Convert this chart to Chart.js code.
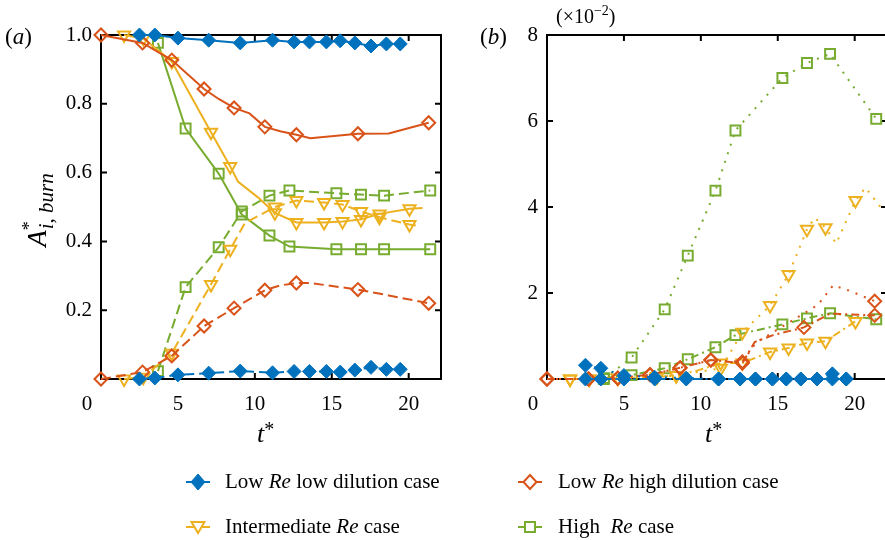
<!DOCTYPE html>
<html><head><meta charset="utf-8">
<script src="https://cdn.jsdelivr.net/npm/chart.js@4"></script>
<style>
html,body{margin:0;padding:0;background:#fff;overflow:hidden;width:885px;height:540px;}
#wrap{position:relative;width:885px;height:540px;overflow:hidden;font-family:'Liberation Serif','Times New Roman',serif;color:#000;}
canvas{position:absolute;top:0;}
.t{position:absolute;white-space:nowrap;line-height:1;}
.lg{position:absolute;white-space:nowrap;font-size:21px;line-height:24px;}
</style></head><body><div id="wrap">
<canvas id="ca" width="450" height="420" style="left:0"></canvas>
<canvas id="cb" width="450" height="420" style="left:446px"></canvas>
<svg id="lgsvg" width="885" height="540" style="position:absolute;left:0;top:0"></svg>
<div class="t" style="left:5px;top:25px;font-size:23px;">(<i>a</i>)</div>
<div class="t" style="left:480px;top:25px;font-size:23px;">(<i>b</i>)</div>
<div class="t" style="left:556px;top:6px;font-size:20px;">(×10<span style="font-size:14px;position:relative;top:-8px;">−2</span>)</div>
<div class="t" style="left:37px;top:206px;transform:translate(-50%,-50%) rotate(-90deg);font-size:27px;"><i>A</i><span style="font-size:18px;position:relative;top:-11px;">*</span><span style="font-size:21px;position:relative;top:7px;left:-8px;"><i>i</i>, <i>burn</i></span></div>
<div class="t" style="left:257px;top:421px;font-size:26px;"><i>t</i><span style="font-size:20px;position:relative;top:-6px;">*</span></div>
<div class="t" style="left:705px;top:421px;font-size:26px;"><i>t</i><span style="font-size:20px;position:relative;top:-6px;">*</span></div>
<div class="lg" style="left:225px;top:469px;">Low <i>Re</i> low dilution case</div>
<div class="lg" style="left:558px;top:469px;">Low <i>Re</i> high dilution case</div>
<div class="lg" style="left:225px;top:514px;">Intermediate <i>Re</i> case</div>
<div class="lg" style="left:558px;top:514px;">High&nbsp; <i>Re</i> case</div>
</div>
<script>
// ---------------- data ----------------
const X_TICKS = [0, 5, 10, 15, 20];
const Y_TICKS_A = [0.2, 0.4, 0.6, 0.8, 1.0];
const Y_TICKS_B = [2, 4, 6, 8];

const T_BLUE = [2.5, 3.5, 5.0, 7.0, 9.05, 11.15, 12.55, 13.55, 14.65, 15.55, 16.5, 17.55, 18.55, 19.45];
const T_RED  = [0, 2.7, 4.6, 6.7, 8.65, 10.65, 12.7, 16.7, 21.3];
const T_YEL  = [1.5, 2.75, 4.6, 7.15, 8.4, 11.3, 12.7, 14.5, 15.7, 16.9, 18.1, 20.05];
const T_GRN  = [3.7, 5.5, 7.65, 9.15, 10.95, 12.25, 15.3, 16.9, 18.4, 21.4];

// panel (a)
const blueSolidA = [1.0, 1.0, 0.991, 0.985, 0.977, 0.985, 0.98, 0.98, 0.98, 0.983, 0.977, 0.968, 0.974, 0.974];
const blueDashA  = [0.0, 0.003, 0.012, 0.017, 0.023, 0.018, 0.022, 0.022, 0.022, 0.02, 0.026, 0.034, 0.028, 0.028];
const redSolidA  = [1.0, 0.977, 0.927, 0.843, 0.788, 0.733, 0.71, 0.713, 0.745];
const redSolidA_mid = [[7.65, 0.814], [9.65, 0.772], [11.65, 0.72], [13.6, 0.70], [18.7, 0.714]];
const redDashA   = [0.0, 0.02, 0.067, 0.154, 0.206, 0.258, 0.279, 0.26, 0.22];
const redDashA_mid = [[11.65, 0.272], [13.6, 0.279], [18.7, 0.243]];
const yelSolidA  = [1.0, 0.99, 0.923, 0.717, 0.618, 0.483, 0.455, 0.455, 0.458, 0.464, 0.48, 0.495];
const yelSolidA_mid = [[8.9, 0.574], [10.2, 0.528], [20.9, 0.497]];
const yelDashA   = [0.0, 0.005, 0.075, 0.275, 0.377, 0.50, 0.519, 0.513, 0.507, 0.487, 0.47, 0.449];
const yelDashA_mid = [[9.35, 0.453], [20.6, 0.445]];
const grnSolidA  = [0.977, 0.728, 0.597, 0.478, 0.417, 0.385, 0.377, 0.377, 0.377, 0.377];
const grnDashA   = [0.023, 0.267, 0.383, 0.487, 0.533, 0.548, 0.54, 0.536, 0.533, 0.548];

// panel (b)  (values x 10^-2)
const blueDotB     = [0.32, 0.25, 0.08, 0.04, 0.02, 0, 0, 0, 0, 0, 0, 0, 0.12, 0];
const blueDashDotB = [0, 0, 0, 0, 0, 0, 0, 0, 0, 0, 0, 0, 0, 0];
const T_RED_DOT    = [0, 2.7, 4.6, 6.7, 8.65, 10.65, 12.7, 21.3];
const redDotB      = [0, 0, 0.02, 0.1, 0.26, 0.44, 0.4, 1.81];
const redDotB_mid  = [[13.6, 0.85], [17.6, 1.72], [18.6, 2.18], [19.6, 2.06]];
const redDashDotB  = [0, 0, 0.02, 0.1, 0.26, 0.44, 0.37, 1.2, 1.48];
const redDashDotB_mid = [[13.5, 0.86], [14.7, 1.02], [18.4, 1.52]];
const yelDotB      = [0, 0, 0.02, 0.05, 0.08, 0.25, 1.09, 1.71, 2.43, 3.48, 3.52, 4.15];
const yelDotB_mid  = [[17.4, 3.75], [18.8, 3.15], [20.7, 4.45], [21.9, 3.9]];
const yelDashDotB  = [0, 0, 0.02, 0.05, 0.08, 0.37, 0.37, 0.63, 0.72, 0.84, 0.88, 1.34];
const yelDashDotB_mid = [[9.8, 0.2]];
const grnDotB      = [0, 0.5, 1.62, 2.87, 4.38, 5.78, 7.0, 7.35, 7.56, 6.05];
const grnDashDotB  = [0.02, 0.09, 0.25, 0.46, 0.74, 1.02, 1.27, 1.41, 1.53, 1.39];

// ---------------- styles ----------------
const FONT = "'Liberation Serif','Times New Roman',serif";
const C = {blue:'#0072BD', red:'#D95319', yel:'#EDB120', grn:'#77AC30'};
const M = {
  blue:{shape:'rectRot', r:7, filled:true},
  red:{shape:'rectRot', r:6.5},
  yel:{shape:'triangle', r:7, rot:180},
  grn:{shape:'rect', r:7}
};
const SOLID = [], DASH = [10, 5], DOT = [2, 7], DASHDOT = [8, 4, 2, 4];
const X_MAX = 22.1;

function series(ts, ys, mid) {
  const pts = ts.map((t, i) => ({x: t, y: ys[i], m: true}));
  (mid || []).forEach(([t, y]) => pts.push({x: t, y: y, m: false}));
  pts.sort((a, b) => a.x - b.x);
  return pts;
}
function ds(data, col, dash) {
  return {
    data, borderColor: C[col], borderWidth: 2, borderDash: dash, fill: false, tension: 0,
    pointStyle: M[col].shape, pointRotation: M[col].rot || 0,
    pointRadius: c => (c.raw && c.raw.m) ? M[col].r : 0,
    pointHoverRadius: 0, pointHitRadius: 0,
    pointBorderWidth: M[col].filled ? 1 : 2,
    pointBackgroundColor: M[col].filled ? C[col] : 'rgba(0,0,0,0)',
    pointBorderColor: C[col],
    clip: false
  };
}

const frame = {
  id: 'frame',
  beforeDatasetsDraw(chart, args, o) {
    const {ctx, chartArea: a, scales: {x, y}} = chart;
    ctx.save();
    ctx.strokeStyle = '#000'; ctx.lineWidth = 2;
    ctx.strokeRect(a.left, a.top, a.right - a.left, a.bottom - a.top);
    const L = 6;
    ctx.beginPath();
    o.xTicks.forEach(v => {
      if (v === 0) return;
      const px = x.getPixelForValue(v);
      ctx.moveTo(px, a.bottom); ctx.lineTo(px, a.bottom - L);
      ctx.moveTo(px, a.top); ctx.lineTo(px, a.top + L);
    });
    o.yTicks.forEach(v => {
      const py = y.getPixelForValue(v);
      ctx.moveTo(a.left, py); ctx.lineTo(a.left + L, py);
      ctx.moveTo(a.right, py); ctx.lineTo(a.right - L, py);
    });
    ctx.stroke();
    ctx.fillStyle = '#000';
    ctx.font = '21px ' + FONT;
    ctx.textAlign = 'center'; ctx.textBaseline = 'middle';
    o.xTicks.forEach(v => {
      let px = x.getPixelForValue(v);
      if (v === 0) px -= 14;
      ctx.fillText(String(v), px, a.bottom + 25);
    });
    ctx.restore();
  }
};

function options(ymax, ytk, fmt) {
  return {
    responsive: false, animation: false, events: [],
    layout: {padding: {top: 35, right: 4, left: 0, bottom: 0}},
    plugins: {legend: {display: false}, tooltip: {enabled: false}, frame: {xTicks: X_TICKS, yTicks: ytk}},
    scales: {
      x: {type: 'linear', min: 0, max: X_MAX,
          grid: {display: false, drawTicks: false}, border: {display: false}, ticks: {display: false},
          afterBuildTicks: s => { s.ticks = X_TICKS.map(v => ({value: v})); },
          afterFit: s => { s.height = 41; }},
      y: {type: 'linear', min: 0, max: ymax,
          grid: {display: false, drawTicks: false}, border: {display: false},
          ticks: {padding: 9, color: '#000', font: {size: 21, family: FONT}, callback: fmt},
          afterBuildTicks: s => { s.ticks = ytk.map(v => ({value: v})); },
          afterFit: s => { s.width = 101; }}
    }
  };
}

new Chart(document.getElementById('ca'), {
  type: 'line',
  data: {datasets: [
    ds(series(T_BLUE, blueSolidA), 'blue', SOLID),
    ds(series(T_BLUE, blueDashA), 'blue', DASH),
    ds(series(T_RED, redSolidA, redSolidA_mid), 'red', SOLID),
    ds(series(T_RED, redDashA, redDashA_mid), 'red', DASH),
    ds(series(T_YEL, yelSolidA, yelSolidA_mid), 'yel', SOLID),
    ds(series(T_YEL, yelDashA, yelDashA_mid), 'yel', DASH),
    ds(series(T_GRN, grnSolidA), 'grn', SOLID),
    ds(series(T_GRN, grnDashA), 'grn', DASH)
  ]},
  options: options(1.0, Y_TICKS_A, v => Number(v).toFixed(1)),
  plugins: [frame]
});

new Chart(document.getElementById('cb'), {
  type: 'line',
  data: {datasets: [
    ds(series(T_BLUE, blueDotB), 'blue', DOT),
    ds(series(T_BLUE, blueDashDotB), 'blue', DASHDOT),
    ds(series(T_RED_DOT, redDotB, redDotB_mid), 'red', DOT),
    ds(series(T_RED, redDashDotB, redDashDotB_mid), 'red', DASHDOT),
    ds(series(T_YEL, yelDotB, yelDotB_mid), 'yel', DOT),
    ds(series(T_YEL, yelDashDotB, yelDashDotB_mid), 'yel', DASHDOT),
    ds(series(T_GRN, grnDotB), 'grn', DOT),
    ds(series(T_GRN, grnDashDotB), 'grn', DASHDOT)
  ]},
  options: options(8, Y_TICKS_B, v => String(v)),
  plugins: [frame]
});

// legend icons
(function () {
  const svg = document.getElementById('lgsvg');
  const NS = 'http://www.w3.org/2000/svg';
  function el(tag, attrs) { const e = document.createElementNS(NS, tag); for (const k in attrs) e.setAttribute(k, attrs[k]); svg.appendChild(e); }
  const items = [
    {col: 'blue', cx: 198, cy: 482}, {col: 'red', cx: 530, cy: 482},
    {col: 'yel', cx: 198, cy: 527}, {col: 'grn', cx: 530, cy: 527}
  ];
  items.forEach(it => {
    const c = C[it.col], x = it.cx, y = it.cy;
    el('line', {x1: x - 12, y1: y, x2: x + 12, y2: y, stroke: c, 'stroke-width': 2});
    if (it.col === 'blue') el('polygon', {points: `${x},${y-8} ${x+7},${y} ${x},${y+8} ${x-7},${y}`, fill: c, stroke: c, 'stroke-width': 1});
    if (it.col === 'red') el('polygon', {points: `${x},${y-7} ${x+6.5},${y} ${x},${y+7} ${x-6.5},${y}`, fill: '#fff', stroke: c, 'stroke-width': 2});
    if (it.col === 'yel') el('polygon', {points: `${x},${y+6} ${x-6.5},${y-5} ${x+6.5},${y-5}`, fill: '#fff', stroke: c, 'stroke-width': 2});
    if (it.col === 'grn') el('rect', {x: x - 5, y: y - 5, width: 10, height: 10, fill: '#fff', stroke: c, 'stroke-width': 2});
  });
})();
</script>
</body></html>
